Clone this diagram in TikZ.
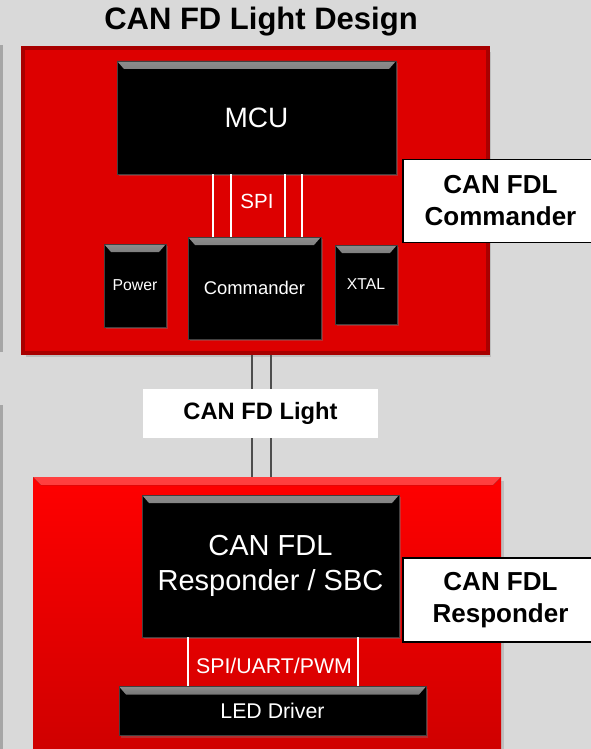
\documentclass[tikz,border=0pt]{standalone}
\usepackage{fontspec}
\setmainfont{Liberation Sans}
\usetikzlibrary{positioning,shadows}

\definecolor{bggray}{HTML}{D9D9D9}
\definecolor{boardred}{HTML}{DD0000}
\definecolor{boardedge}{HTML}{A80000}
\definecolor{busgray}{HTML}{4D4D4D}

\begin{document}
\begin{tikzpicture}[x=1pt, y=-1pt,
    chip/.style={fill=black, draw=black!75, line width=0.6pt, text=white, inner sep=0pt,
      drop shadow={shadow xshift=2pt, shadow yshift=-2pt, opacity=0.35},
      path picture={\fill[top color=black!45, bottom color=black]
        (path picture bounding box.north west) -- (path picture bounding box.north east)
        -- ([xshift=-7pt,yshift=-8pt]path picture bounding box.north east)
        -- ([xshift=7pt,yshift=-8pt]path picture bounding box.north west) -- cycle;}},
    tag/.style={fill=white, draw=black, line width=1.5pt, align=center, inner sep=0pt,
      font=\bfseries\fontsize{26}{32}\selectfont},
    spiline/.style={white, line width=2pt},
    canbus/.style={busgray, line width=2.5pt}]
  \clip (0,0) rectangle (591,749);
  \fill[bggray] (0,0) rectangle (591,749);
  % edges of the neighbouring boards
  \fill[black!35] (0,45) rectangle (2.5,352);
  \fill[black!35] (0,405) rectangle (2.5,749);

  \node[font=\bfseries\fontsize{31}{36}\selectfont] (title) at (261,22) {CAN FD Light Design};

  % commander board
  \node[fill=boardred, draw=boardedge, line width=4pt, minimum width=465pt, minimum height=305pt,
    drop shadow={shadow xshift=3pt, shadow yshift=-4pt, opacity=0.3}] (cmdboard) at (255.5,200.5) {};
  \node[chip, minimum width=279pt, minimum height=113pt, font=\fontsize{28}{34}\selectfont] (mcu) at (256.5,117.5) {MCU};
  \node[chip, minimum width=133pt, minimum height=102pt, font=\fontsize{18.4}{22}\selectfont] (cmd) at (254.5,288) {Commander};
  \node[chip, minimum width=62pt, minimum height=83pt, font=\fontsize{15.8}{19}\selectfont] (power) at (135,285.5) {Power};
  \node[chip, minimum width=62pt, minimum height=79pt, font=\fontsize{15.7}{19}\selectfont] (xtal) at (366,284.5) {XTAL};
  \foreach \dx in {-41.5,-23.5,30.5,47.5}
    \draw[spiline] ([xshift=\dx pt]cmd.north) -- ([xshift=\dx pt]cmd.north |- mcu.south);
  \node[text=white, font=\fontsize{20.5}{24}\selectfont] (spi) at (257,201) {SPI};
  \node[tag, minimum width=195pt, minimum height=83pt] (cmdtag) at (500.5,201) {CAN FDL\\Commander};

  % responder board
  \node[top color=red, bottom color=red!80!black, minimum width=468pt, minimum height=293pt,
    drop shadow={shadow xshift=3pt, shadow yshift=-4pt, opacity=0.3},
    path picture={\fill[top color=red!75!white, bottom color=red]
      (path picture bounding box.north west) -- (path picture bounding box.north east)
      -- ([xshift=-8pt,yshift=-8pt]path picture bounding box.north east)
      -- ([xshift=8pt,yshift=-8pt]path picture bounding box.north west) -- cycle;}] (respboard) at (267,623.5) {};
  \foreach \dx in {-3.5,15.5}
    \draw[canbus] ([xshift=\dx pt]cmdboard.south) -- ([xshift=\dx pt]cmdboard.south |- respboard.north);
  \node[fill=white, minimum width=235pt, minimum height=49pt, font=\bfseries\fontsize{23.7}{28}\selectfont] (canlight) at (260.5,413.5) {CAN FD Light};
  \node[chip, minimum width=257pt, minimum height=142pt, align=center, font=\fontsize{29}{35}\selectfont] (resp) at (270.5,566) {CAN FDL\\Responder / SBC};
  \node[chip, minimum width=307pt, minimum height=49pt, font=\fontsize{21.3}{25}\selectfont] (led) at (272.5,711) {LED Driver};
  \foreach \dx in {-82.5,87.5}
    \draw[white, line width=1.5pt] ([xshift=\dx pt]resp.south) -- ([xshift=\dx pt]resp.south |- led.north);
  \node[text=white, font=\fontsize{21.3}{25}\selectfont] (bus) at (274,666) {SPI/UART/PWM};
  \node[tag, minimum width=195pt, minimum height=84pt] (resptag) at (500.5,600) {CAN FDL\\Responder};
\end{tikzpicture}
\end{document}
